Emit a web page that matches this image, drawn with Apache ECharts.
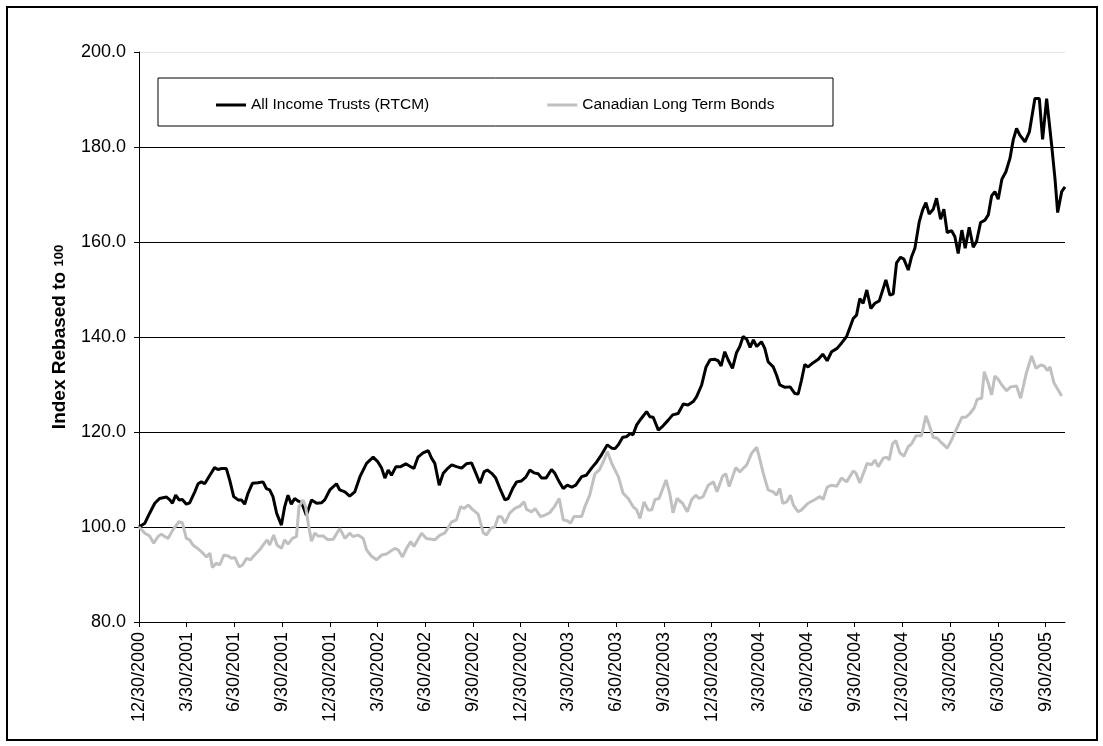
<!DOCTYPE html>
<html>
<head>
    <meta charset="utf-8">
    <title>Income Trusts vs Long Term Bonds</title>
    <script src="https://cdn.jsdelivr.net/npm/echarts@6/dist/echarts.min.js"></script>
    <style>
        html, body { margin: 0; padding: 0; background: #fff; }
        #chart1 { width: 1103px; height: 746px; }
    </style>
</head>
<body>
<div id="chart1"></div>
<script>
    // x = weeks since 12/30/2000, one tick label every 13 weeks
    var tickLabels = ['12/30/2000', '3/30/2001', '6/30/2001', '9/30/2001', '12/30/2001',
        '3/30/2002', '6/30/2002', '9/30/2002', '12/30/2002', '3/30/2003', '6/30/2003',
        '9/30/2003', '12/30/2003', '3/30/2004', '6/30/2004', '9/30/2004', '12/30/2004',
        '3/30/2005', '6/30/2005', '9/30/2005'];

    // All Income Trusts (RTCM): [week, index]
    var trustPoints = [
        [0, 100], [1.6, 100.8], [2.9, 102.9], [4.3, 105], [5.6, 106], [7.5, 106.3], [8.4, 105.7], [9.1, 105],
        [10, 106.7], [10.9, 105.7], [11.8, 105.8], [12.9, 104.8], [13.8, 105.1], [15.2, 107.4], [16.1, 109.1],
        [17, 109.5], [17.9, 109.1], [19.3, 110.9], [20.6, 112.5], [21.5, 112.1], [22.5, 112.3], [23.8, 112.3],
        [24.7, 109.9], [25.8, 106.4], [27, 105.7], [27.9, 105.7], [28.8, 104.8], [29.7, 107.1], [30.9, 109.2],
        [32.4, 109.3], [33.8, 109.5], [34.7, 108.1], [35.6, 107.8], [36.5, 106.4], [37.5, 102.9], [38.8, 100.4],
        [39.7, 104.3], [40.6, 106.7], [41.5, 104.8], [42.4, 106], [43.3, 105.5], [44.3, 105.1], [45.6, 102.5],
        [47, 105.7], [48.4, 105], [49.7, 105.1], [50.6, 105.7], [52, 107.8], [53.8, 109.1], [54.7, 107.8],
        [56.1, 107.4], [57.4, 106.5], [58.8, 107.4], [60.2, 110.6], [62, 113.4], [63.8, 114.7], [65.1, 113.7],
        [66.1, 112.4], [67, 110.3], [67.9, 112], [68.8, 110.9], [70, 112.7], [71.3, 112.7], [72.7, 113.3],
        [73.8, 112.8], [74.9, 112.3], [76, 114.7], [77.4, 115.6], [78.8, 116.1], [79.7, 114.5], [80.6, 113.4],
        [81.8, 108.8], [82.9, 111.3], [84.2, 112.4], [85.2, 113.1], [86.5, 112.7], [87.9, 112.4], [89.2, 113.3],
        [90.6, 113.5], [91.8, 111.3], [92.9, 109.2], [94, 111.6], [94.9, 112], [96.1, 111.3], [97.2, 110.3],
        [98.5, 107.8], [99.7, 105.7], [100.6, 106], [101.8, 108.1], [102.9, 109.5], [104.2, 109.7], [105.4, 110.5],
        [106.5, 112], [107.6, 111.4], [108.8, 111.2], [109.7, 110.3], [110.9, 110.3], [112.4, 112.1], [113.3, 111.3],
        [114.5, 109.5], [115.6, 108.1], [116.7, 108.8], [117.9, 108.4], [119, 108.8], [120.6, 110.6], [121.9, 110.9],
        [123.3, 112.4], [124.7, 113.7], [126, 115.2], [127.6, 117.3], [128.8, 116.6], [129.7, 116.5], [130.6, 117.3],
        [131.8, 118.9], [132.8, 119], [133.9, 119.7], [134.6, 119.4], [135.6, 121.5], [136.9, 122.9], [138.3, 124.3],
        [139.2, 123.2], [140.1, 123.1], [141.5, 120.4], [142.8, 121.3], [144.2, 122.5], [145.4, 123.6], [146.9, 123.9],
        [148.3, 125.9], [149.6, 125.7], [151, 126.4], [151.9, 127.4], [153.3, 129.9], [154.5, 133.7], [155.6, 135.2],
        [156.9, 135.3], [157.8, 135], [158.6, 133.9], [159.6, 136.9], [160.5, 135.2], [161.7, 133.4], [162.8, 136.7],
        [163.7, 138], [164.6, 140.1], [165.6, 139.5], [166.5, 137.8], [167.4, 139.4], [168.3, 138], [169.6, 139],
        [170.5, 137.6], [171.4, 134.8], [172.8, 133.7], [173.7, 132], [174.6, 129.9], [176, 129.4], [177.4, 129.5],
        [178.7, 128.1], [179.6, 128], [180.5, 130.9], [181.4, 134.2], [182.3, 133.7], [183.7, 134.6], [185.1, 135.3],
        [186.3, 136.4], [187.5, 135], [188.7, 136.9], [190.2, 137.6], [191.4, 138.7], [192.8, 140.1], [194.6, 143.9],
        [195.5, 144.6], [196.4, 148.1], [197.3, 147.1], [198.3, 149.9], [199.4, 146], [200.5, 147.1], [201.7, 147.6],
        [203.5, 152], [204.6, 148.8], [205.5, 149.1], [206.4, 155.6], [207.5, 156.8], [208.4, 156.4], [209.6, 154.1],
        [210.5, 156.9], [211.4, 158.7], [212.6, 164.3], [213.5, 166.7], [214.4, 168.3], [215.3, 165.9], [216.4, 166.9],
        [217.3, 169.2], [218.4, 164.8], [219.3, 166.9], [220.2, 162], [221.4, 162.4], [222.3, 161.1], [223.2, 157.6],
        [224.2, 162.5], [225.1, 158.7], [226.2, 163.1], [227.3, 158.9], [228.2, 160.1], [229.3, 164.1], [230.5, 164.6],
        [231.4, 165.7], [232.3, 169.7], [233.2, 170.6], [234.1, 169], [235.1, 173.2], [236.2, 174.8], [237.3, 177.6],
        [238.2, 181.5], [239.1, 183.9], [240, 182.5], [241.4, 181.1], [242.6, 183.2], [244.1, 190.2], [245.3, 190.2],
        [246.2, 181.6], [247.3, 190.2], [248.7, 180.1], [249.6, 173.1], [250.3, 166.2], [251.4, 170.6], [252.3, 171.6]
    ];

    // Canadian Long Term Bonds: [week, index]
    var bondPoints = [
        [0, 100], [1.6, 98.7], [2.9, 98.1], [4, 96.6], [5.2, 98], [6.1, 98.5], [7, 98], [7.9, 97.6], [9.3, 99.5],
        [10.9, 101.1], [11.8, 100.9], [12.9, 97.6], [13.8, 97.3], [14.7, 96.2], [15.6, 95.7], [17, 94.8],
        [18.4, 93.7], [19.3, 94.5], [20, 91.5], [21.1, 92.4], [22, 92], [23.1, 94.1], [24.3, 93.9], [25.2, 93.4],
        [26.1, 93.6], [27.3, 91.6], [28.2, 92], [29.3, 93.4], [30.4, 93.1], [31.5, 94.1], [32.9, 95.2], [33.8, 96.2],
        [34.9, 97.3], [35.6, 96.2], [36.7, 98.3], [37.6, 96.2], [38.8, 95.5], [39.7, 97.3], [40.6, 96.4],
        [41.8, 97.6], [42.9, 98], [43.6, 104.3], [44.7, 105.7], [45.4, 104.3], [46.1, 100.8], [47, 97],
        [47.9, 98.7], [48.8, 98.1], [50.2, 98.1], [51.5, 97.3], [52.9, 97.4], [54.7, 99.7], [56.1, 97.6],
        [57.4, 98.7], [58.3, 98], [59.7, 98.3], [61.1, 97.6], [62, 95.2], [63.3, 93.9], [64.7, 93.1], [66.1, 94.1],
        [67.4, 94.3], [69.7, 95.5], [70.6, 95.2], [71.8, 93.7], [72.9, 95.5], [74, 96.9], [74.9, 95.9], [77, 98.7],
        [78.3, 97.6], [80.6, 97.3], [82, 98.3], [83.3, 98.7], [85.2, 101.1], [86.5, 101.5], [87.6, 104.3],
        [88.5, 103.9], [89.7, 104.6], [91, 103.6], [92.4, 102.7], [93.8, 98.8], [94.7, 98.3], [95.8, 99.7],
        [97, 100.1], [97.9, 102.2], [98.8, 102.1], [99.7, 100.8], [101, 102.9], [102.4, 103.9], [103.8, 104.4],
        [104.9, 105.3], [105.6, 103.7], [107, 103.2], [107.9, 103.9], [109.4, 102.2], [110.6, 102.5], [111.9, 103],
        [113.3, 104.4], [114.5, 106], [115.6, 101.5], [116.7, 101.3], [117.6, 100.8], [118.5, 102.2], [120.6, 102.2],
        [121.5, 104.3], [122.8, 106.7], [124.2, 111.2], [125.4, 112], [126.5, 113.7], [127.6, 115.9], [128.8, 113.4],
        [130.6, 110.6], [131.9, 107.1], [133.3, 106], [134.6, 104.3], [135.6, 103.6], [136.5, 101.8], [137.6, 105.3],
        [138.7, 103.6], [139.7, 103.6], [140.6, 105.8], [141.7, 106], [143.6, 109.9], [144.6, 107.1], [145.5, 103],
        [146.6, 106], [148.1, 105], [149.4, 103.2], [150.6, 105.8], [151.7, 106.7], [152.6, 106], [153.7, 106.4],
        [155.1, 108.8], [156.5, 109.5], [157.5, 107.4], [159, 110.7], [159.9, 111.2], [160.8, 108.5], [162.6, 112.5],
        [163.7, 111.6], [165.6, 113.1], [166.9, 115.5], [168.3, 116.8], [169, 114.7], [170.1, 111.3], [171.4, 107.8],
        [172.8, 107.4], [173.7, 106.7], [174.6, 108.1], [175.4, 105], [176.5, 105.3], [177.5, 106.7], [178.3, 104.6],
        [179.6, 103.2], [180.5, 103.6], [182.3, 105], [184.2, 105.8], [185.5, 106.4], [186.4, 105.8], [187.5, 108.4],
        [188.7, 108.8], [190.1, 108.6], [191.4, 110.3], [192.8, 109.5], [194.6, 111.8], [195.3, 111.4], [196.4, 109.3],
        [198.4, 113.4], [199.6, 113.1], [200.5, 114.1], [201.4, 112.7], [202.8, 114.5], [203.7, 114.7], [204.4, 114.1],
        [205.3, 117.5], [206.2, 118.2], [207.3, 115.6], [208.4, 114.9], [209.6, 116.9], [210.5, 117.5], [211.7, 119.2],
        [213.2, 119.2], [214.4, 123.4], [215.3, 121.5], [216.4, 118.9], [217.5, 118.7], [218.7, 117.7], [220.2, 116.6],
        [221.2, 118], [222.6, 120.4], [224.2, 123.1], [225.3, 123.1], [226.4, 123.9], [227.5, 125], [228.4, 126.9],
        [229.6, 127.1], [230.3, 132.7], [231.4, 130.3], [232.3, 127.8], [233.2, 131.8], [234.1, 131.1], [235.1, 129.9],
        [236.4, 128.7], [237.5, 129.5], [239.1, 129.7], [240.2, 127.1], [241.7, 132.2], [243.2, 136], [244.4, 133.4],
        [245.7, 134.1], [246.6, 133.9], [247.5, 132.9], [248.2, 133.7], [249.3, 130.3], [250, 129.4], [251.4, 127.6]
    ];

    var tickWeeks = tickLabels.map(function (t, i) { return i * 13; });
    var fontName = '"Liberation Sans", Arial, sans-serif';

    var myChart1 = echarts.init(document.getElementById('chart1'));
    myChart1.setOption({
        animation: false,
        backgroundColor: '#fff',
        graphic: [
            {   // outer frame
                type: 'rect',
                shape: {x: 7, y: 7, width: 1090, height: 733},
                style: {fill: 'none', stroke: '#000', lineWidth: 2},
                silent: true
            },
            {   // legend box
                type: 'rect',
                shape: {x: 158, y: 78, width: 675, height: 48},
                style: {fill: '#fff', stroke: '#000', lineWidth: 1},
                z: 5,
                silent: true
            }
        ],
        grid: {left: 139, right: 38, top: 52, bottom: 124},
        legend: {
            left: 211,
            top: 92,
            z: 10,
            icon: 'rect',
            itemGap: 118,
            itemWidth: 30,
            itemHeight: 3,
            textStyle: {fontFamily: fontName, fontSize: 15.5, color: '#000'},
            data: ['All Income Trusts (RTCM)', 'Canadian Long Term Bonds']
        },
        xAxis: {
            type: 'value',
            min: 0,
            max: 252.3,
            interval: 13,
            axisLine: {lineStyle: {color: '#000', width: 1}},
            axisTick: {length: 5, customValues: tickWeeks, lineStyle: {color: '#000'}},
            axisLabel: {
                customValues: tickWeeks,
                rotate: 90,
                margin: 10,
                color: '#000',
                fontFamily: fontName,
                fontSize: 18,
                formatter: function (v) {
                    var k = Math.round(v / 13);
                    return Math.abs(v - k * 13) < 0.01 && tickLabels[k] ? tickLabels[k] : '';
                }
            },
            splitLine: {show: false}
        },
        yAxis: {
            type: 'value',
            min: 80,
            max: 200,
            interval: 20,
            name: 'Index Rebased to {s|100}',
            nameLocation: 'middle',
            nameRotate: 90,
            nameGap: 70,
            nameTextStyle: {
                fontFamily: fontName, fontSize: 19, fontWeight: 'bold', color: '#000',
                rich: {s: {fontFamily: fontName, fontSize: 13, fontWeight: 'bold', color: '#000'}}
            },
            axisLine: {show: true, lineStyle: {color: '#000', width: 1}},
            axisTick: {show: true, length: 5, lineStyle: {color: '#000'}},
            axisLabel: {
                color: '#000', fontFamily: fontName, fontSize: 18, margin: 13,
                formatter: function (v) { return v.toFixed(1); }
            },
            splitLine: {
                lineStyle: {color: ['#000', '#000', '#000', '#000', '#000', '#000', '#e4e4e4'], width: 1}
            }
        },
        series: [
            {
                name: 'All Income Trusts (RTCM)',
                type: 'line',
                symbol: 'none',
                color: '#000',
                lineStyle: {color: '#000', width: 3},
                data: trustPoints
            },
            {
                name: 'Canadian Long Term Bonds',
                type: 'line',
                symbol: 'none',
                color: '#c0c0c0',
                lineStyle: {color: '#c0c0c0', width: 3},
                data: bondPoints
            }
        ]
    });
</script>
</body>
</html>
